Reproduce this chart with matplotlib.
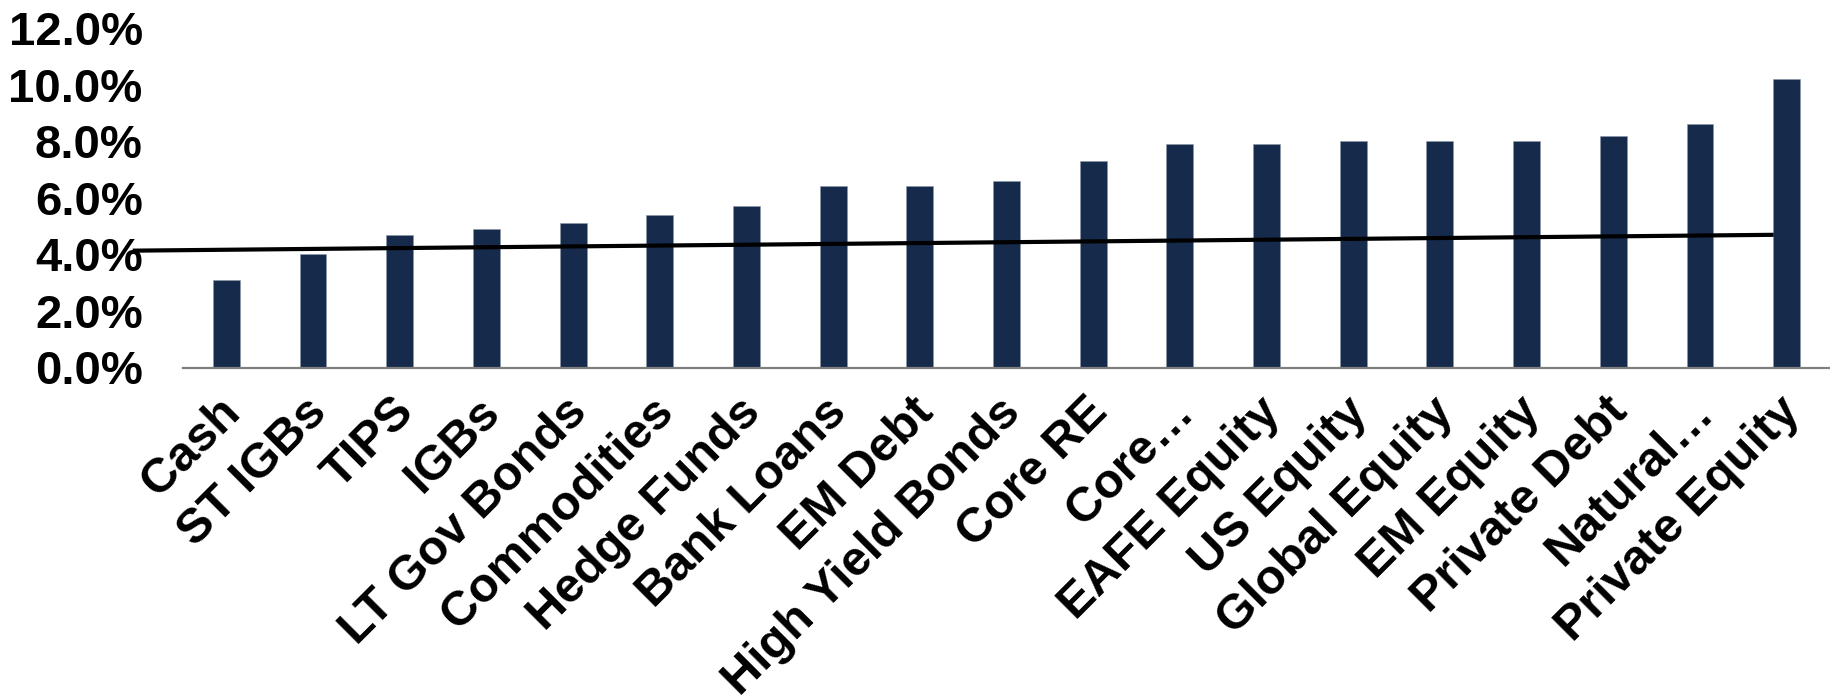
import matplotlib
matplotlib.use("Agg")
import matplotlib.pyplot as plt
import matplotlib.transforms as mtransforms
from matplotlib.ticker import FuncFormatter

categories = ["Cash", "ST IGBs", "TIPS", "IGBs", "LT Gov Bonds", "Commodities",
              "Hedge Funds", "Bank Loans", "EM Debt", "High Yield Bonds", "Core RE",
              "Core\u2026", "EAFE Equity", "US Equity", "Global Equity", "EM Equity",
              "Private Debt", "Natural\u2026", "Private Equity"]
returns = [3.1, 4.0, 4.7, 4.9, 5.1, 5.4, 5.7, 6.4, 6.4, 6.6, 7.3,
           7.9, 7.9, 8.0, 8.0, 8.0, 8.2, 8.6, 10.2]
line_x = [-1.08, 17.85]
line_y = [4.13, 4.69]
yticks = [0, 2, 4, 6, 8, 10, 12]

plt.rcParams['font.family'] = ['Liberation Sans', 'DejaVu Sans']
plt.rcParams['font.weight'] = 'bold'

fig = plt.figure(figsize=(18.3, 7.0), dpi=100)
ax = fig.add_axes([0.1, 0.475, 0.9, 0.485])

x = list(range(len(categories)))
ax.bar(x, returns, width=0.31, color="#162a4b", edgecolor="#8a96a8", linewidth=0.4, zorder=2)
ax.plot(line_x, line_y, color="black", linewidth=3.0, zorder=3, clip_on=False,
        solid_capstyle="butt")

ax.set_xlim(-0.5, 18.5)
ax.set_ylim(0, 12)
ax.set_yticks(yticks)
ax.yaxis.set_major_formatter(FuncFormatter(lambda v, p: f"{v:.1f}%"))
ax.tick_params(axis="y", length=0, pad=29, labelsize=34)
ax.set_xticks(x)
ax.set_xticklabels(categories, rotation=45, ha="right", va="center",
                   rotation_mode="anchor", fontsize=35, fontweight="bold")
ax.tick_params(axis="x", length=0, pad=30)
offset = mtransforms.ScaledTranslation(7 / 100, 4 / 100, fig.dpi_scale_trans)
for lab in ax.get_xticklabels():
    lab.set_transform(lab.get_transform() + offset)
for lab in ax.get_yticklabels():
    lab.set_fontweight("bold")

for s in ["top", "right", "left"]:
    ax.spines[s].set_visible(False)
ax.spines["bottom"].set_color("#7f7f7f")
ax.spines["bottom"].set_linewidth(1.6)
ax.spines["bottom"].set_zorder(4)

fig.savefig("out.png", dpi=100, facecolor="white")
